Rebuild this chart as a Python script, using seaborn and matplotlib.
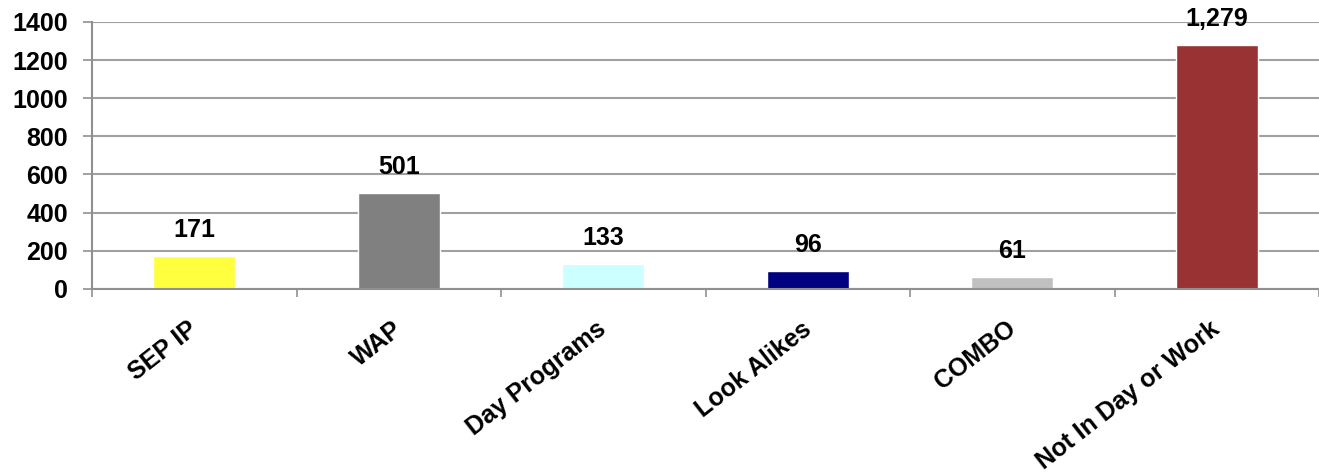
import numpy as np
import pandas as pd
import seaborn as sns
import matplotlib.pyplot as plt
import matplotlib.transforms as mtrans
from matplotlib.ticker import FixedLocator

categories = ["SEP IP", "WAP", "Day Programs", "Look Alikes", "COMBO", "Not In Day or Work"]
counts = [171, 501, 133, 96, 61, 1279]
colors = ["#FFFF40", "#808080", "#CCFFFF", "#000080", "#C0C0C0", "#993333"]

sns.set_style("white")
plt.rcParams['font.family'] = ['Liberation Sans', 'DejaVu Sans']
plt.rcParams['text.color'] = 'black'

df = pd.DataFrame({"category": categories, "count": counts})

fig = plt.figure(figsize=(13.19, 4.76), dpi=100)
ax = fig.add_axes([0.0698, 0.393, 0.9302, 0.561])

sns.barplot(data=df, x="category", y="count", hue="category", palette=colors,
            width=0.4, legend=False, ax=ax, saturation=1)

ax.set_ylim(0, 1400)
ax.set_xlim(-0.5, 5.5)
ax.set_yticks(np.arange(0, 1401, 200))
ax.yaxis.grid(True, color="#a0a0a0", lw=1.5)
ax.set_axisbelow(True)
ax.set_xlabel("")
ax.set_ylabel("")

for s in ["top", "right"]:
    ax.spines[s].set_visible(False)
for s in ["left", "bottom"]:
    ax.spines[s].set_color("#909090")
    ax.spines[s].set_linewidth(1.5)

ax.tick_params(axis="y", left=True, length=6.5, color="#909090", width=1.2,
               labelsize=18, pad=11, labelcolor="black")
for lbl in ax.get_yticklabels():
    lbl.set_fontweight("bold")

# category labels, boundary tick marks as minor ticks
ax.xaxis.set_minor_locator(FixedLocator(np.arange(-0.5, 6, 1)))
ax.tick_params(axis="x", which="major", bottom=False, length=0, pad=20, labelcolor="black")
ax.tick_params(axis="x", which="minor", bottom=True, length=5.5, color="#909090", width=1.2)
ax.set_xticks(range(len(categories)))
ax.set_xticklabels(categories, rotation=38, ha="right", va="top", rotation_mode="anchor",
                   fontsize=18, fontweight="bold")
shift = mtrans.ScaledTranslation(-0.07, 0, fig.dpi_scale_trans)
for lbl in ax.get_xticklabels():
    lbl.set_transform(lbl.get_transform() + shift)

for c in ax.containers:
    ax.bar_label(c, labels=[f"{int(v):,}" for v in c.datavalues], padding=10,
                 fontsize=18, fontweight="bold", color="black")

fig.savefig("out.png", dpi=100)
